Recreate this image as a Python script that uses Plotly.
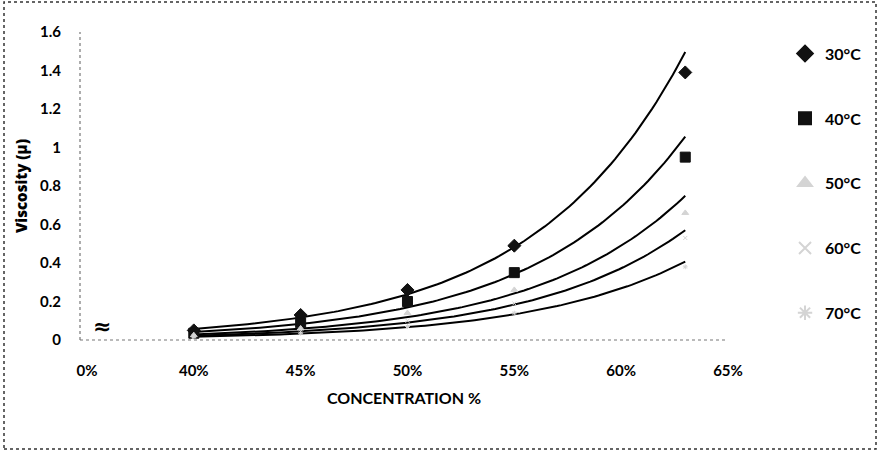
import numpy as np
import plotly.graph_objects as go

# ---- data ----
concentration = [40, 45, 50, 55, 63]          # %
tick_values_pct = [0, 40, 45, 50, 55, 60, 65]
tick_labels = ["0%", "40%", "45%", "50%", "55%", "60%", "65%"]

visc_30 = [0.05, 0.13, 0.26, 0.49, 1.39]
visc_40 = [0.035, 0.09, 0.20, 0.35, 0.95]
visc_50 = [0.025, 0.06, 0.14, 0.26, 0.66]
visc_60 = [0.02, 0.045, 0.10, 0.19, 0.53]
visc_70 = [0.015, 0.035, 0.07, 0.14, 0.38]

series_names = ["30°C", "40°C", "50°C", "60°C", "70°C"]
series_values = [visc_30, visc_40, visc_50, visc_60, visc_70]

# broken axis: 0% at position 0, 40% at 1, then 5% per unit
def pos(c):
    c = np.asarray(c, dtype=float)
    return np.where(c <= 0, 0.0, (c - 35.0) / 5.0)

tick_pos = pos(tick_values_pct)
xpos = pos(concentration)

styles = [
    dict(symbol="diamond", color="#111111", size=10),
    dict(symbol="square", color="#111111", size=10),
    dict(symbol="triangle-up", color="#d4d4d4", size=6),
    dict(symbol="x-thin", color="#d4d4d4", size=4),
    dict(symbol="asterisk", color="#d4d4d4", size=4),
]

FONT = "Lato"
fig = go.Figure()

# exponential trend lines (fit, like the spreadsheet trendline)
xs = np.linspace(xpos.min(), xpos.max(), 120)
for vals in series_values:
    b, lna = np.polyfit(xpos, np.log(vals), 1)
    fig.add_trace(go.Scatter(x=xs, y=np.exp(lna + b * xs), mode="lines",
                             line=dict(color="black", width=2),
                             showlegend=False, hoverinfo="skip"))

for i, (name, vals, st) in enumerate(zip(series_names, series_values, styles)):
    fig.add_trace(go.Scatter(
        x=xpos, y=vals, mode="markers", name=name, legendgroup=name,
        marker=dict(symbol=st["symbol"], color=st["color"], size=st["size"],
                    line=dict(color=st["color"], width=1)),
    ))

fig.add_annotation(x=0.14, y=0.07, text="≈", showarrow=False,
                   font=dict(size=22, color="black", family="DejaVu Sans",
                             weight="bold"))

# outer border of the chart area
L, R, T, B = 80, 150, 32, 111
W, H = 878, 451
pw, ph = W - L - R, H - T - B
fig.add_shape(type="rect", xref="paper", yref="paper",
              x0=(4 - L) / pw, x1=(876 - L) / pw,
              y0=(H - B - 449) / ph, y1=(H - B - 2) / ph,
              line=dict(color="#333333", width=1.5, dash="dot"))
# dotted axis lines
fig.add_shape(type="line", xref="paper", yref="paper", x0=0, x1=1, y0=0, y1=0,
              line=dict(color="#777777", width=1.2, dash="dot"))
fig.add_shape(type="line", xref="paper", yref="paper", x0=0, x1=0, y0=0, y1=1,
              line=dict(color="#777777", width=1.2, dash="dot"))

fig.update_layout(
    width=W, height=H,
    margin=dict(l=L, r=R, t=T, b=B, pad=0, autoexpand=False),
    paper_bgcolor="white", plot_bgcolor="white",
    font=dict(family=FONT, color="black", size=14),
    legend=dict(x=1.088, xanchor="left", y=0.985, yanchor="top",
                font=dict(size=16, family=FONT, color="black", weight="bold"),
                tracegroupgap=41, itemsizing="constant", itemwidth=30,
                bgcolor="rgba(0,0,0,0)"),
    xaxis=dict(range=[-0.065, 6.0], tickmode="array", tickvals=tick_pos,
               ticktext=tick_labels, showgrid=False, zeroline=False,
               showline=False, ticks="", ticklabelstandoff=20,
               tickfont=dict(size=15, family=FONT, weight="bold"),
               title=dict(text="CONCENTRATION %", standoff=14,
                          font=dict(size=16, family=FONT, weight="bold"))),
    yaxis=dict(range=[0, 1.6], tickmode="array",
               tickvals=[0, 0.2, 0.4, 0.6, 0.8, 1.0, 1.2, 1.4, 1.6],
               ticktext=["0", "0.2", "0.4", "0.6", "0.8", "1", "1.2", "1.4", "1.6"],
               showgrid=False, zeroline=False, showline=False, ticks="",
               ticklabelstandoff=18,
               tickfont=dict(size=15, family=FONT, weight="bold"),
               title=dict(text="Viscosity (µ)", standoff=8,
                          font=dict(size=15, family="Open Sans", weight=800))),
)

fig.write_html("out.html")
